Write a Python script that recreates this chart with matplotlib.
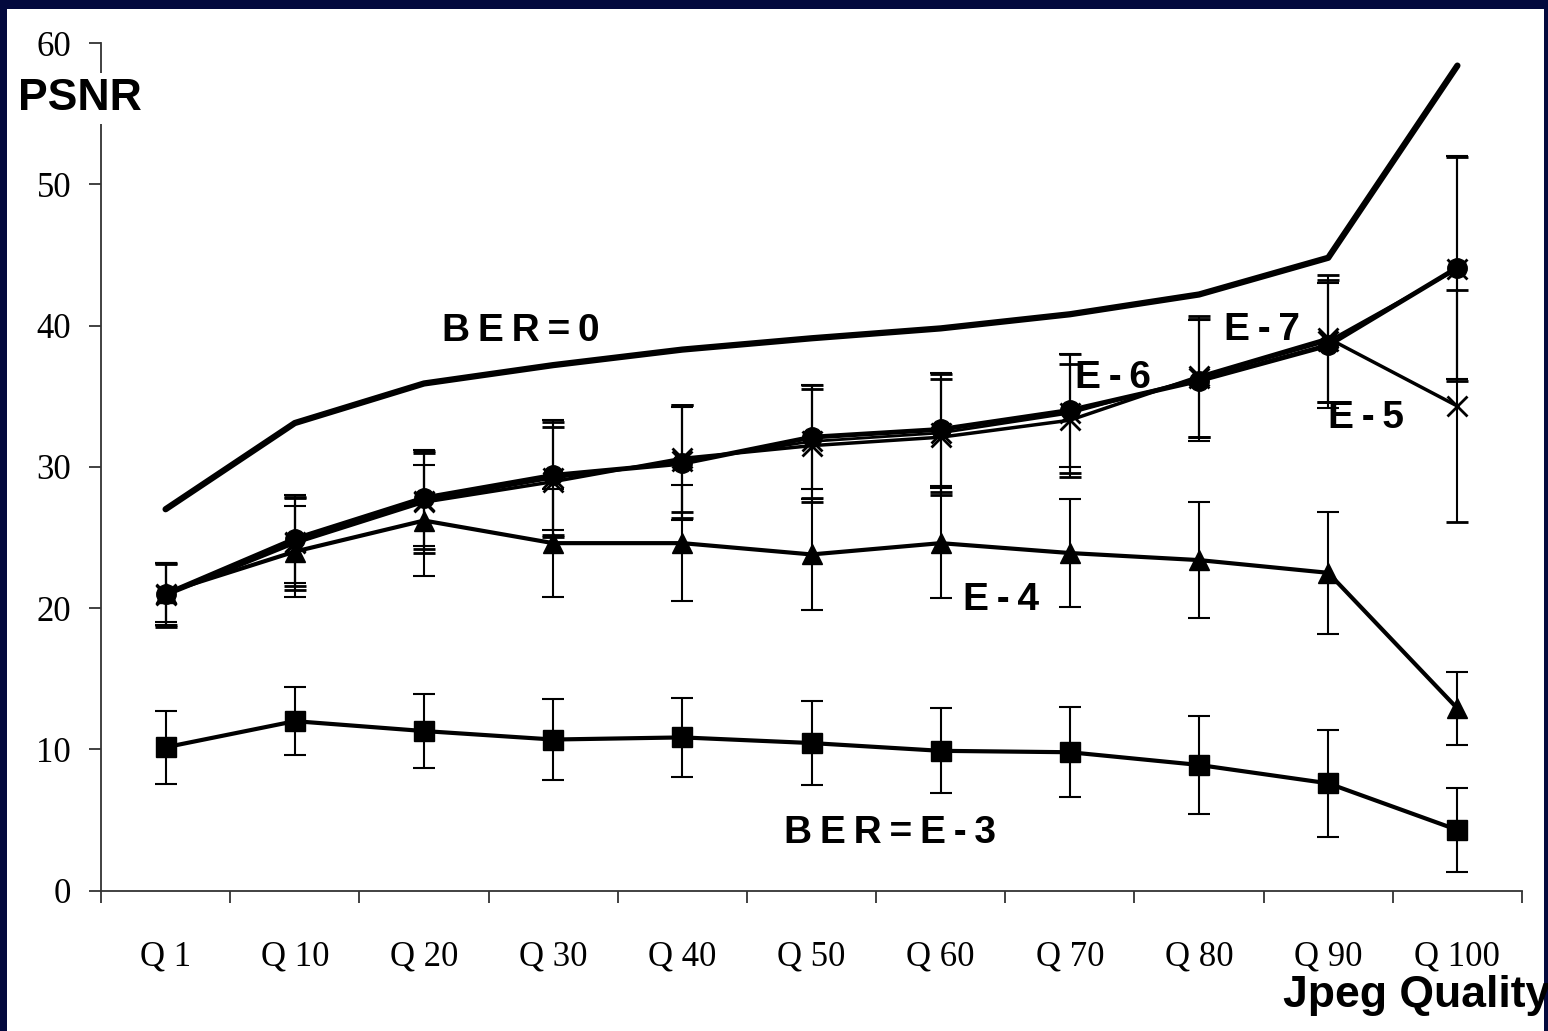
import numpy as np
import matplotlib.pyplot as plt
from matplotlib.patches import Rectangle

# data
quality = ['Q 1', 'Q 10', 'Q 20', 'Q 30', 'Q 40', 'Q 50', 'Q 60', 'Q 70', 'Q 80', 'Q 90', 'Q 100']

ber_0 = [27.0, 33.1, 35.9, 37.2, 38.3, 39.1, 39.8, 40.8, 42.2, 44.8, 58.4]

ber_e3 = [10.15, 12.0, 11.3, 10.7, 10.85, 10.45, 9.9, 9.8, 8.9, 7.6, 4.3]
ber_e3_err = [2.6, 2.4, 2.6, 2.9, 2.8, 3.0, 3.0, 3.2, 3.5, 3.8, 3.0]

ber_e4 = [21.1, 24.0, 26.2, 24.6, 24.6, 23.8, 24.6, 23.9, 23.4, 22.5, 12.9]
ber_e4_err = [2.1, 3.2, 3.9, 3.8, 4.1, 3.9, 3.9, 3.8, 4.1, 4.3, 2.6]

ber_e5 = [20.9, 24.6, 27.5, 28.95, 30.6, 31.5, 32.1, 33.3, 36.4, 39.1, 34.3]
ber_e5_err = [2.2, 3.3, 3.6, 3.9, 3.8, 4.0, 4.1, 4.0, 4.3, 4.5, 8.2]

ber_e6 = [21.0, 24.7, 27.6, 29.2, 30.4, 31.8, 32.4, 33.8, 36.3, 38.9, 44.0]
ber_e6_err = [2.2, 3.1, 3.4, 4.0, 4.0, 4.0, 4.2, 4.2, 4.2, 4.3, 7.9]

ber_e7 = [21.0, 24.9, 27.8, 29.4, 30.25, 32.1, 32.65, 34.0, 36.1, 38.6, 44.1]
ber_e7_err = [2.2, 3.1, 3.4, 3.9, 4.0, 3.7, 4.0, 4.0, 4.3, 4.4, 7.9]

W, H = 1548, 1031
fig = plt.figure(figsize=(W / 100, H / 100), dpi=100, facecolor='#03093d')
# white slide area inside the dark frame
fig.patches.append(Rectangle((7 / W, 0), (1544 - 7) / W, (H - 9) / H,
                             transform=fig.transFigure, facecolor='white',
                             edgecolor='none', zorder=-5))

ax = fig.add_axes([101 / W, 140.3 / H, (1522 - 101) / W, (890.7 - 43) / H])
ax.set_facecolor('none')

x = np.arange(len(quality))
eb = dict(ecolor='black', elinewidth=1.5, capsize=8, capthick=1.5)

ax.plot(x, ber_0, color='black', lw=4.5, solid_capstyle='round', zorder=5)

ax.errorbar(x, ber_e3, yerr=ber_e3_err, color='black', lw=3, marker='s', ms=14, **eb)
ax.errorbar(x, ber_e4, yerr=ber_e4_err, color='black', lw=3, marker='^', ms=15, **eb)
ax.errorbar(x, ber_e5, yerr=ber_e5_err, color='black', lw=2.5, marker='x', ms=14, mew=2, **eb)
ax.errorbar(x, ber_e6, yerr=ber_e6_err, color='black', lw=2, marker='x', ms=14, mew=2, **eb)
ax.errorbar(x, ber_e7, yerr=ber_e7_err, color='black', lw=3.5, marker='o', ms=14, **eb)

ax.set_xlim(-0.5, len(quality) - 0.5)
ax.set_ylim(0, 60)
ax.set_yticks([0, 10, 20, 30, 40, 50, 60])
ax.set_xticks(x, quality)
ax.set_xticks(np.arange(-0.5, len(quality)), minor=True)

for s in ['top', 'right']:
    ax.spines[s].set_visible(False)
for s in ['left', 'bottom']:
    ax.spines[s].set_color('#333333')
    ax.spines[s].set_linewidth(1.3)

serif = 'Liberation Serif'
ax.tick_params(axis='x', which='major', length=0, pad=36, labelsize=25)
ax.tick_params(axis='x', which='minor', length=8.5, width=1.3, color='#333333', direction='out')
ax.tick_params(axis='y', length=8.5, width=1.3, color='#333333', pad=13, labelsize=25)
for lab in ax.get_xticklabels() + ax.get_yticklabels():
    lab.set_fontfamily(serif)

bold = dict(family=['Liberation Sans', 'DejaVu Sans'], fontweight='bold', color='black')


def spaced(s):
    # the slide text has wide letter spacing
    return '\u2009'.join(s)


ax.text(2.75, 38.9, spaced('BER=0'), ha='center', va='baseline', fontsize=28, **bold)
ax.text(7.33, 35.58, spaced('E-6'), ha='center', va='baseline', fontsize=28, **bold)
ax.text(8.49, 38.97, spaced('E-7'), ha='center', va='baseline', fontsize=28, **bold)
ax.text(9.29, 32.75, spaced('E-5'), ha='center', va='baseline', fontsize=28, **bold)
ax.text(6.47, 19.87, spaced('E-4'), ha='center', va='baseline', fontsize=28, **bold)
ax.text(5.61, 3.38, spaced('BER=E-3'), ha='center', va='baseline', fontsize=28, **bold)

fig.text(18 / W, 1 - 110 / H, 'PSNR', ha='left', va='baseline', fontsize=32,
         bbox=dict(facecolor='white', edgecolor='none', pad=4), zorder=10, **bold)
fig.text(1283 / W, 1 - 1007 / H, 'Jpeg Quality', ha='left', va='baseline',
         fontsize=32, zorder=10, **bold)

fig.savefig('out.png', dpi=100, facecolor=fig.get_facecolor())
